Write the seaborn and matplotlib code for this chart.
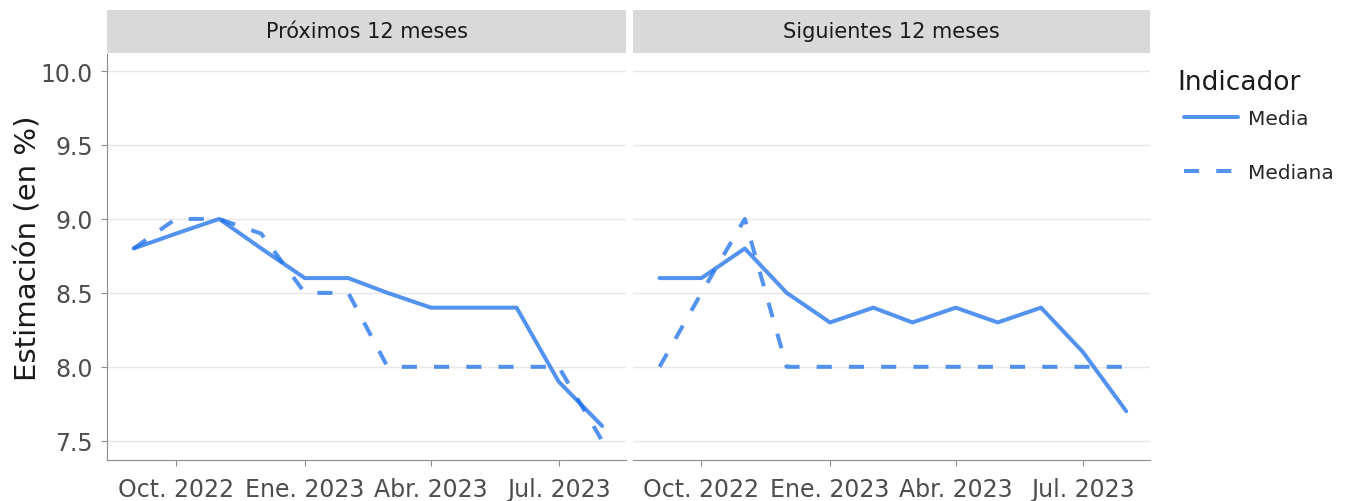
import pandas as pd
import numpy as np
import matplotlib
matplotlib.use('Agg')
import matplotlib.pyplot as plt
from matplotlib.patches import Rectangle
from matplotlib.lines import Line2D
import seaborn as sns

# datos
fechas = ['2022-09-01', '2022-10-01', '2022-11-01', '2022-12-01', '2023-01-01', '2023-02-01',
          '2023-03-01', '2023-04-01', '2023-05-01', '2023-06-01', '2023-07-01', '2023-08-01']
horizontes = ['Próximos 12 meses', 'Siguientes 12 meses']
indicadores = ['Media', 'Mediana']

prox_media = [8.8, 8.9, 9.0, 8.8, 8.6, 8.6, 8.5, 8.4, 8.4, 8.4, 7.9, 7.6]
prox_mediana = [8.8, 9.0, 9.0, 8.9, 8.5, 8.5, 8.0, 8.0, 8.0, 8.0, 8.0, 7.5]
sig_media = [8.6, 8.6, 8.8, 8.5, 8.3, 8.4, 8.3, 8.4, 8.3, 8.4, 8.1, 7.7]
sig_mediana = [8.0, 8.5, 9.0, 8.0, 8.0, 8.0, 8.0, 8.0, 8.0, 8.0, 8.0, 8.0]

xticks = ['2022-10-01', '2023-01-01', '2023-04-01', '2023-07-01']
xtick_labels = ['Oct. 2022', 'Ene. 2023', 'Abr. 2023', 'Jul. 2023']
yticks = [7.5, 8.0, 8.5, 9.0, 9.5, 10.0]

rows = []
for h, media, mediana in zip(horizontes, [prox_media, sig_media], [prox_mediana, sig_mediana]):
    for ind, vals in zip(indicadores, [media, mediana]):
        for f, v in zip(fechas, vals):
            rows.append({'Horizonte': h, 'Indicador': ind, 'fecha': f, 'valor': v})
df = pd.DataFrame(rows)
df['fecha'] = pd.to_datetime(df['fecha'])

sns.set_style('white')
plt.rcParams['font.family'] = ['DejaVu Sans']

color = '#1A6FEA'
dashes = {'Media': '', 'Mediana': (3.75, 4.25)}

W, H = 1351, 502
fig = plt.figure(figsize=(W / 100, H / 100), dpi=100)
axes = [fig.add_axes([107 / W, 41 / H, 519 / W, 406 / H]),
        fig.add_axes([633 / W, 41 / H, 517 / W, 406 / H])]

for i, (ax, h) in enumerate(zip(axes, horizontes)):
    sub = df[df['Horizonte'] == h]
    sns.lineplot(data=sub, x='fecha', y='valor', style='Indicador', dashes=dashes,
                 color=color, alpha=0.75, linewidth=2.9, ax=ax, legend=False)
    ax.set_xlim(pd.Timestamp('2022-08-13'), pd.Timestamp('2023-08-18'))
    ax.set_ylim(7.37, 10.115)
    ax.set_xticks(pd.to_datetime(xticks))
    ax.set_xticklabels(xtick_labels, fontsize=17, color='#4d4d4d')
    ax.set_yticks(yticks)
    ax.grid(axis='y', color='#e6e6e6', linewidth=1)
    ax.grid(axis='x', visible=False)
    ax.set_xlabel('')
    for s in ['top', 'right']:
        ax.spines[s].set_visible(False)
    ax.spines['bottom'].set_color('#8c8c8c')
    ax.spines['left'].set_color('#8c8c8c')
    ax.tick_params(axis='x', bottom=True, length=4, color='#8c8c8c', pad=8.5)
    if i == 0:
        ax.set_yticklabels([f'{v:.1f}' for v in yticks], fontsize=17, color='#4d4d4d')
        ax.tick_params(axis='y', left=True, length=4, color='#8c8c8c', pad=6)
        ax.set_ylabel('Estimación (en %)', fontsize=21, color='#1a1a1a')
        ax.yaxis.set_label_coords(-0.125, 0.525)
    else:
        ax.spines['left'].set_visible(False)
        ax.set_yticklabels([])
        ax.tick_params(axis='y', left=False)
        ax.set_ylabel('')
    # franja del titulo de panel
    ax.add_patch(Rectangle((0, 1 + 1 / 406), 1, 43 / 406, transform=ax.transAxes,
                           facecolor='#d9d9d9', edgecolor='none', clip_on=False))
    ax.text(0.5, 1 + 22.5 / 406, h, transform=ax.transAxes, ha='center', va='center',
            fontsize=15, color='#1a1a1a')

fig.text(1177 / W, 1 - 83 / H, 'Indicador', fontsize=19, color='#1a1a1a', ha='left', va='center')
handles = [Line2D([], [], color=color, alpha=0.75, linewidth=2.9, linestyle='-'),
           Line2D([], [], color=color, alpha=0.75, linewidth=2.9, dashes=dashes['Mediana'])]
leg = fig.legend(handles, indicadores, loc='upper left', bbox_to_anchor=(1184 / W, 1 - 110 / H),
                 frameon=False, fontsize=14.5, borderpad=0, borderaxespad=0,
                 handlelength=2.7, labelspacing=1.72, handletextpad=0.5)

plt.savefig('out.png', dpi=100)
